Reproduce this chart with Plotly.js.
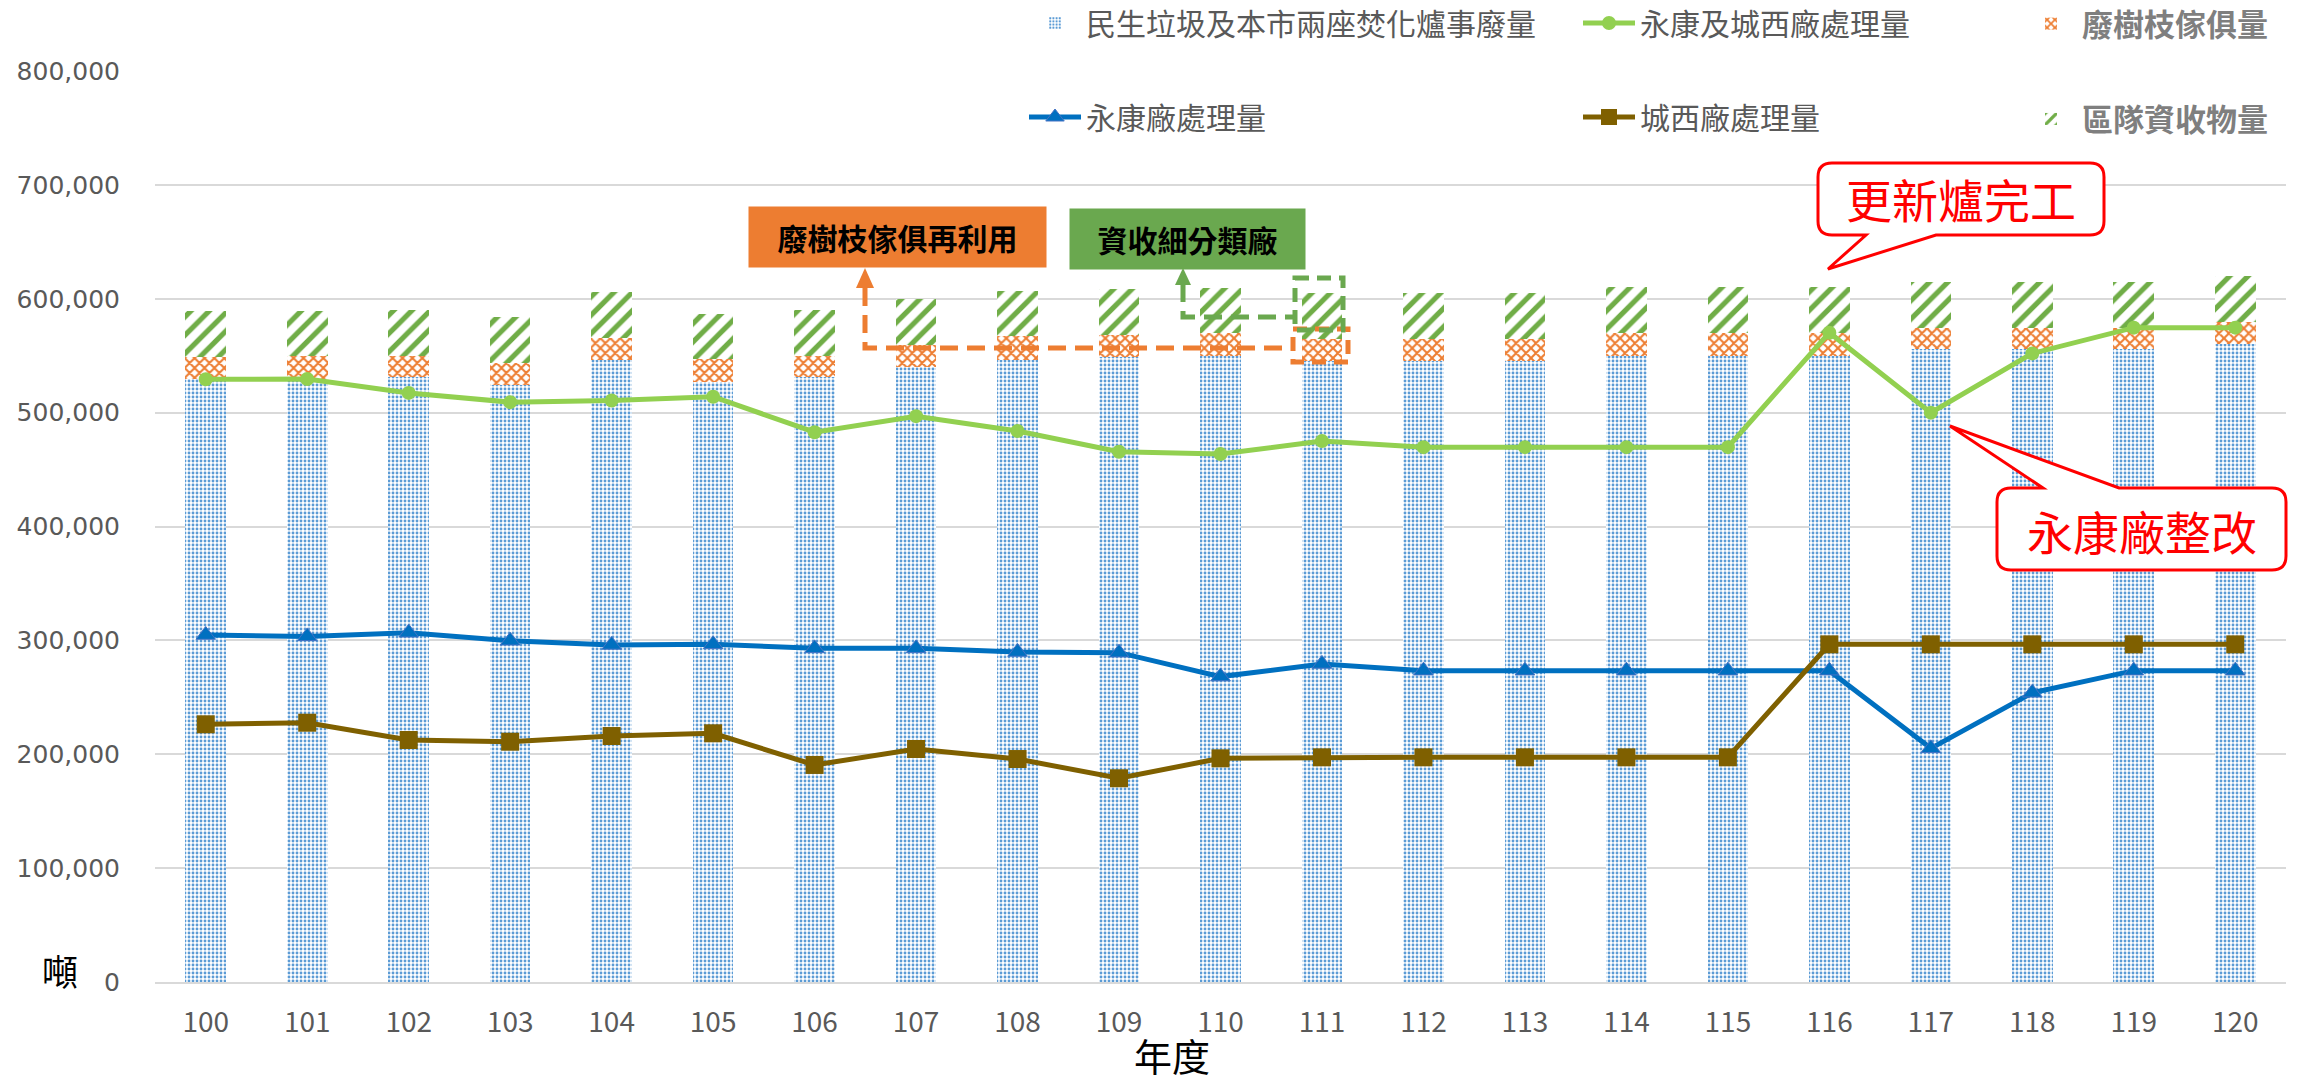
<!DOCTYPE html>
<html>
<head>
<meta charset="utf-8">
<script src="https://cdn.plot.ly/plotly-3.0.1.min.js"></script>
<style>html,body{margin:0;padding:0;background:#fff;}#chart{width:2297px;height:1081px;}</style>
</head>
<body>
<div id="chart"></div>
<script>
// ---- data ----
const years = ['100','101','102','103','104','105','106','107','108','109','110','111','112','113','114','115','116','117','118','119','120'];
const municipalWaste = [529500,529500,531000,524000,546000,527000,531000,540400,546000,549000,550000,545000,545000,545000,550000,550000,550000,555600,555600,555600,560300];
const prunedBranchFurniture = [19300,19900,19000,19600,19800,19800,19000,19000,21500,19000,20000,20000,19700,19700,19900,20000,20000,19000,19000,19000,19500];
const teamRecyclables = [40400,39600,40000,40100,40200,39800,40000,40400,39300,40600,39800,40000,40100,40100,40100,40000,40000,40100,40100,40100,40200];
const bothPlants = [529300,529500,517300,509200,510700,514000,482800,496900,483900,465700,463700,475000,469700,469700,469700,469700,570200,500000,552000,574600,574600];
const yongkang = [304700,303500,306700,299700,296000,296500,293000,293000,289800,289200,268200,279300,273400,273400,273400,273400,273400,205200,254000,273400,273400];
const chengxi = [226300,227700,212500,211000,216000,218400,190600,204600,195800,178900,196400,197300,197300,197300,197300,197300,296500,296500,296500,296500,296500];

const names = {
  waste: '民生垃圾及本市兩座焚化爐事廢量',
  branch: '廢樹枝傢俱量',
  recyc: '區隊資收物量',
  both: '永康及城西廠處理量',
  yk: '永康廠處理量',
  cx: '城西廠處理量'
};

// ---- geometry helpers (pixel -> paper) ----
const L = 155, T = 71, W = 2131, H = 911;
const fx = p => (p - L) / W;
const fy = p => (T + H - p) / H;
function pathOf(pts, close) {
  let s = '';
  pts.forEach((p, i) => {
    if (p[0] === 'Q') s += ' Q' + fx(p[1]) + ',' + fy(p[2]) + ' ' + fx(p[3]) + ',' + fy(p[4]);
    else s += (i === 0 ? 'M' : ' L') + fx(p[0]) + ',' + fy(p[1]);
  });
  return s + (close ? ' Z' : '');
}

const CJK = '"Noto Sans CJK TC", "Noto Sans CJK SC", sans-serif';
const grey = '#595959';

const traces = [
  {type:'bar', x:years, y:municipalWaste, name:names.waste, legend:'legend', legendgroup:'a',
   marker:{color:'#ffffff', line:{width:0}, pattern:{shape:'.', fgcolor:'#5B9BD5', bgcolor:'#ffffff', size:4, solidity:0.4}}},
  {type:'bar', x:years, y:prunedBranchFurniture, name:names.branch, legend:'legend3', legendgroup:'e',
   marker:{color:'#ffffff', line:{width:0}, pattern:{shape:'x', fgcolor:'#ED7D31', bgcolor:'#ffffff', size:7, solidity:0.5}}},
  {type:'bar', x:years, y:teamRecyclables, name:names.recyc, legend:'legend3', legendgroup:'f',
   marker:{color:'#ffffff', line:{width:0}, pattern:{shape:'/', fgcolor:'#70AD47', bgcolor:'#ffffff', size:13, solidity:0.4}}},
  {type:'scatter', mode:'lines+markers', x:years, y:bothPlants, name:names.both, legend:'legend2', legendgroup:'c',
   line:{color:'#92D050', width:5}, marker:{symbol:'circle', size:14, color:'#92D050'}},
  {type:'scatter', mode:'lines+markers', x:years, y:yongkang, name:names.yk, legend:'legend', legendgroup:'b',
   line:{color:'#0070C0', width:5}, marker:{symbol:'triangle-up', size:17, color:'#0070C0', line:{color:'#4472C4', width:1}}},
  {type:'scatter', mode:'lines+markers', x:years, y:chengxi, name:names.cx, legend:'legend2', legendgroup:'d',
   line:{color:'#7F6000', width:5}, marker:{symbol:'square', size:18, color:'#7F6000'}}
];

const legBase = {orientation:'v', yanchor:'top', xanchor:'left', bgcolor:'rgba(0,0,0,0)', traceorder:'grouped',
  tracegroupgap:52, itemwidth:52, itemclick:false, itemdoubleclick:false};
const legFont = {family:CJK, size:30, color:grey};
const legTop = fy(-3);

const red = '#FF0000';
const r = 14;
const call1 = {x0:1818, x1:2104, y0:163, y1:235};
const call2 = {x0:1997, x1:2286, y0:488, y1:570};

const shapes = [
  // callout 更新爐完工 (pointer down-left)
  {type:'path', xref:'paper', yref:'paper', line:{color:red, width:3}, fillcolor:'#ffffff',
   path: pathOf([[call1.x0+r,call1.y0],[call1.x1-r,call1.y0],['Q',call1.x1,call1.y0,call1.x1,call1.y0+r],
     [call1.x1,call1.y1-r],['Q',call1.x1,call1.y1,call1.x1-r,call1.y1],[1936,call1.y1],[1828,269],[1866,call1.y1],
     [call1.x0+r,call1.y1],['Q',call1.x0,call1.y1,call1.x0,call1.y1-r],[call1.x0,call1.y0+r],['Q',call1.x0,call1.y0,call1.x0+r,call1.y0]], true)},
  // callout 永康廠整改 (pointer up-left)
  {type:'path', xref:'paper', yref:'paper', line:{color:red, width:3}, fillcolor:'#ffffff',
   path: pathOf([[call2.x0+r,call2.y0],[2043,call2.y0],[1950,426],[2119,call2.y0],[call2.x1-r,call2.y0],
     ['Q',call2.x1,call2.y0,call2.x1,call2.y0+r],[call2.x1,call2.y1-r],['Q',call2.x1,call2.y1,call2.x1-r,call2.y1],
     [call2.x0+r,call2.y1],['Q',call2.x0,call2.y1,call2.x0,call2.y1-r],[call2.x0,call2.y0+r],['Q',call2.x0,call2.y0,call2.x0+r,call2.y0]], true)},
  // orange dashed connector + frame
  {type:'path', xref:'paper', yref:'paper', line:{color:'#ED7D31', width:5, dash:'18px,9px'},
   path: pathOf([[865,288],[865,348],[1293,348]], false)},
  {type:'path', xref:'paper', yref:'paper', line:{color:'#ED7D31', width:0}, fillcolor:'#ED7D31',
   path: pathOf([[865,268],[874,288],[856,288]], true)},
  {type:'rect', xref:'paper', yref:'paper', x0:fx(1293), x1:fx(1348), y0:fy(329), y1:fy(362),
   line:{color:'#ED7D31', width:5, dash:'14px,8px'}},
  // green dashed connector + frame
  {type:'path', xref:'paper', yref:'paper', line:{color:'#6AA84F', width:5, dash:'18px,9px'},
   path: pathOf([[1183,284],[1183,317],[1295,317]], false)},
  {type:'path', xref:'paper', yref:'paper', line:{color:'#6AA84F', width:0}, fillcolor:'#6AA84F',
   path: pathOf([[1183,268],[1191,285],[1175,285]], true)},
  {type:'rect', xref:'paper', yref:'paper', x0:fx(1295), x1:fx(1343), y0:fy(278), y1:fy(330),
   line:{color:'#6AA84F', width:5, dash:'14px,8px'}}
];

const ann = (o) => Object.assign({xref:'paper', yref:'paper', xanchor:'center', yanchor:'middle', showarrow:false}, o);
const annotations = [
  ann({x:fx(897.5), y:fy(237), width:297, height:60, bgcolor:'#ED7D31', borderpad:0,
   text:'<b>廢樹枝傢俱再利用</b>', font:{family:CJK, size:30, color:'#000000'}}),
  ann({x:fx(1187.5), y:fy(239), width:235, height:60, bgcolor:'#6AA84F', borderpad:0,
   text:'<b>資收細分類廠</b>', font:{family:CJK, size:30, color:'#000000'}}),
  ann({x:fx(1961), y:fy(198), text:'更新爐完工', font:{family:CJK, size:46, color:red}}),
  ann({x:fx(2142), y:fy(530), text:'永康廠整改', font:{family:CJK, size:46, color:red}}),
  ann({x:fx(1172), y:fy(1054), text:'年度', font:{family:CJK, size:38, color:'#000000'}}),
  ann({x:fx(60), y:fy(970), text:'噸', font:{family:CJK, size:36, color:'#000000'}})
];

const layout = {
  width:2297, height:1081,
  margin:{l:L, r:11, t:T, b:99, autoexpand:false},
  paper_bgcolor:'#ffffff', plot_bgcolor:'#ffffff',
  barmode:'stack', bargap:0.6,
  showlegend:true,
  font:{family:CJK, color:grey},
  xaxis:{type:'category', range:[-0.5, 20.5], autorange:false, showgrid:false, showline:true, linecolor:'#D9D9D9', linewidth:2, ticks:'',
    tickfont:{family:CJK, size:28, color:grey}, ticklabelstandoff:14, fixedrange:true},
  yaxis:{range:[0,800000], autorange:false, dtick:100000, tick0:0, tickformat:',d', showgrid:true, gridcolor:'#D9D9D9', gridwidth:2,
    zeroline:false, showline:false, ticks:'', tickfont:{family:'"DejaVu Sans", sans-serif', size:25, color:grey},
    ticklabelstandoff:34, fixedrange:true},
  legend: Object.assign({}, legBase, {x:fx(1024), y:legTop, font:legFont}),
  legend2: Object.assign({}, legBase, {x:fx(1578), y:legTop, font:legFont}),
  legend3: Object.assign({}, legBase, {x:fx(2020), y:legTop, font:{family:CJK, size:31, color:'#7F7F7F', weight:'bold'}}),
  shapes: shapes,
  annotations: annotations,
  hovermode:false
};

Plotly.newPlot('chart', traces, layout, {staticPlot:true, displayModeBar:false});
</script>
</body>
</html>
